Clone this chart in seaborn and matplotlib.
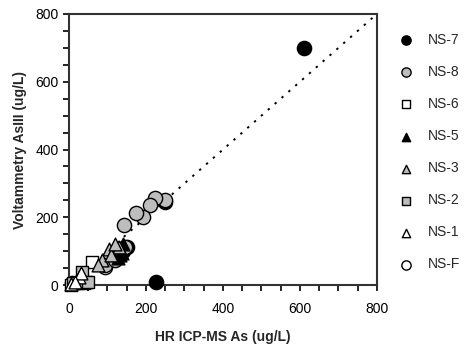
import numpy as np
import pandas as pd
import seaborn as sns
import matplotlib.pyplot as plt
from matplotlib.ticker import MultipleLocator

sns.set_style("ticks")
plt.rcParams['font.family'] = ['Liberation Sans', 'DejaVu Sans']

# values (HR ICP-MS As vs Voltammetry AsIII, ug/L)
ns7_x = [610, 225, 250, 150, 140]
ns7_y = [700, 10, 245, 113, 100]
ns8_x = [249, 223, 210, 193, 174, 144, 145, 94, 120]
ns8_y = [251, 257, 236, 202, 213, 177, 113, 59, 75]
ns6_x = [60, 45, 5, 20]
ns6_y = [69, 10, 0, 5]
ns5_x = [133, 138, 128, 140]
ns5_y = [88, 95, 80, 120]
ns3_x = [103, 129, 86, 110, 120, 75]
ns3_y = [108, 113, 74, 90, 120, 60]
ns2_x = [34, 40, 50, 10]
ns2_y = [39, 5, 10, 5]
ns1_x = [25, 5, 30, 15]
ns1_y = [25, 3, 35, 10]
nsf_x = [94, 8]
nsf_y = [54, 5]

# name, x, y, marker, fill, size, zorder
series = [
    ("NS-7", ns7_x, ns7_y, "o", "black", 105, 3),
    ("NS-8", ns8_x, ns8_y, "o", "#bdbdbd", 105, 3.1),
    ("NS-6", ns6_x, ns6_y, "s", "white", 70, 3),
    ("NS-5", ns5_x, ns5_y, "^", "black", 85, 3.5),
    ("NS-3", ns3_x, ns3_y, "^", "#bdbdbd", 85, 3.6),
    ("NS-2", ns2_x, ns2_y, "s", "#bdbdbd", 70, 3.2),
    ("NS-1", ns1_x, ns1_y, "^", "white", 85, 3.4),
    ("NS-F", nsf_x, nsf_y, "o", "white", 105, 2),
]

fig, ax = plt.subplots(figsize=(4.66, 3.56), dpi=100)
fig.subplots_adjust(left=0.148, right=0.809, top=0.961, bottom=0.199)

# 1:1 line
ax.plot([0, 800], [0, 800], color="black", linestyle=(0, (1.2, 3.5)), linewidth=1.4, zorder=1)

for name, xs, ys, m, c, s, z in series:
    df = pd.DataFrame({"x": xs, "y": ys})
    sns.scatterplot(data=df, x="x", y="y", marker=m, color=c, edgecolor="black",
                    linewidth=1.0, s=s, ax=ax, label=name, zorder=z, clip_on=False)

ax.set_xlim(0, 800)
ax.set_ylim(0, 800)
ax.xaxis.set_major_locator(MultipleLocator(200))
ax.yaxis.set_major_locator(MultipleLocator(200))
ax.xaxis.set_minor_locator(MultipleLocator(50))
ax.yaxis.set_minor_locator(MultipleLocator(50))
ax.tick_params(which="both", direction="out", length=4, width=1.2, labelsize=10, colors="black")
ax.tick_params(axis="x", pad=8)
for sp in ax.spines.values():
    sp.set_linewidth(1.5)
    sp.set_color("#333333")

ax.set_xlabel("HR ICP-MS As (ug/L)", fontsize=10, fontweight="bold", labelpad=10)
ax.set_ylabel("Voltammetry AsIII (ug/L)", fontsize=10, fontweight="bold", labelpad=6)

ax.legend(loc="upper left", bbox_to_anchor=(1.03, 0.95), frameon=False, fontsize=10,
          markerscale=0.65, labelspacing=1.3, handletextpad=0.6, borderaxespad=0)

plt.savefig("out.png", dpi=100)
